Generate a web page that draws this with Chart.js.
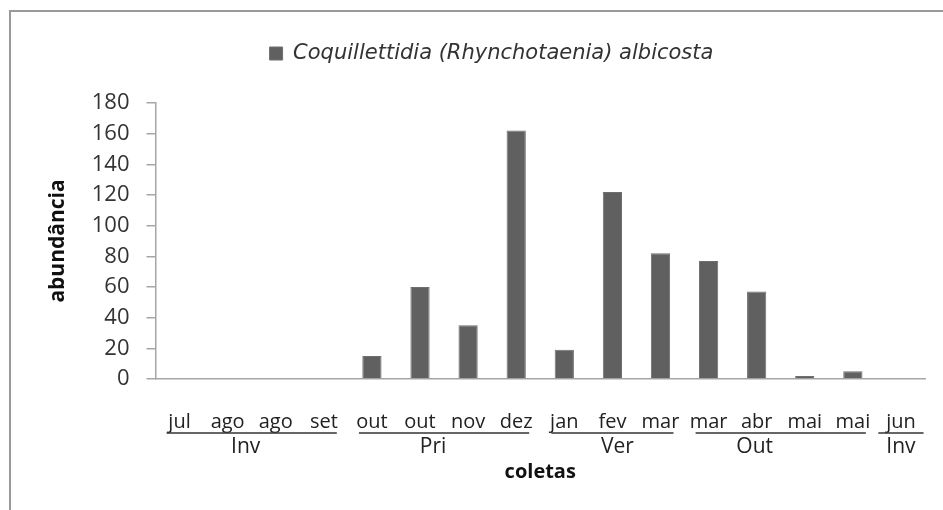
<!DOCTYPE html>
<html>
<head>
<meta charset="utf-8">
<script src="https://cdn.jsdelivr.net/npm/chart.js@4"></script>
<style>
  html, body { margin: 0; padding: 0; background: #ffffff; }
  #wrap { position: relative; width: 943px; height: 510px; }
  #frame { position: absolute; left: 9px; top: 10px; right: -5px; bottom: -5px;
           border-left: 2px solid #9a9a9a; border-top: 2px solid #9a9a9a; pointer-events: none; }
  canvas { display: block; }
</style>
</head>
<body>
<div id="wrap">
  <canvas id="c" width="943" height="510"></canvas>
  <div id="frame"></div>
</div>
<script>
// ---- data ----
const categories = ['jul', 'ago', 'ago', 'set', 'out', 'out', 'nov', 'dez', 'jan', 'fev', 'mar', 'mar', 'abr', 'mai', 'mai', 'jun'];
const abundancia = [0, 0, 0, 0, 15, 60, 35, 162, 19, 122, 82, 77, 57, 2, 5, 0];
const seriesName = 'Coquillettidia (Rhynchotaenia) albicosta';
const seasonNames = ['Inv', 'Pri', 'Ver', 'Out', 'Inv'];
const seasonFirst = [0, 4, 8, 11, 15];
const seasonLast = [3, 7, 10, 14, 15];
const yTickValues = [0, 20, 40, 60, 80, 100, 120, 140, 160, 180];

const FONT = "'Open Sans', 'Noto Sans', sans-serif";

const seasonPlugin = {
  id: 'seasons',
  afterDraw(chart, args, opts) {
    const x = chart.scales.x;
    const ctx = chart.ctx;
    const cat = x.width / categories.length;
    ctx.save();
    ctx.strokeStyle = '#333333';
    ctx.fillStyle = '#222222';
    ctx.lineWidth = 1.5;
    ctx.font = '21px ' + FONT;
    ctx.textAlign = 'center';
    ctx.textBaseline = 'middle';
    for (let i = 0; i < seasonNames.length; i++) {
      const a = x.getPixelForValue(seasonFirst[i]);
      const b = x.getPixelForValue(seasonLast[i]);
      const ext = seasonFirst[i] === seasonLast[i] ? 0.47 * cat : 0.27 * cat;
      ctx.beginPath();
      ctx.moveTo(a - ext, opts.lineY);
      ctx.lineTo(b + ext, opts.lineY);
      ctx.stroke();
      ctx.fillText(seasonNames[i], (a + b) / 2 + opts.nudge[i], opts.labelY);
    }
    ctx.restore();
  }
};

new Chart(document.getElementById('c'), {
  type: 'bar',
  data: {
    labels: categories,
    datasets: [{
      label: seriesName,
      data: abundancia,
      backgroundColor: '#606060',
      borderColor: '#6e6e6e',
      borderWidth: 1,
      categoryPercentage: 0.8,
      barPercentage: 0.5
    }]
  },
  options: {
    responsive: false,
    animation: false,
    layout: { padding: { top: 11, left: 58, right: 18, bottom: 0 } },
    plugins: {
      tooltip: { enabled: false },
      legend: {
        position: 'top',
        weight: 3000,
        labels: {
          boxWidth: 13, boxHeight: 13, padding: 32,
          color: '#333333',
          font: { family: "'DejaVu Sans', sans-serif", size: 21, style: 'italic' }
        }
      },
      title: {
        display: true,
        text: ' ',
        weight: 1000,
        font: { size: 10, lineHeight: 1 },
        padding: { top: 9, bottom: 10 }
      },
      seasons: { lineY: 433, labelY: 447, nudge: [-6, -11, 5, -26, 0] }
    },
    scales: {
      x: {
        grid: { display: false },
        border: { display: true, color: '#a6a6a6', width: 1.5 },
        ticks: {
          autoSkip: false, maxRotation: 0, minRotation: 0, padding: 23,
          color: '#222222', font: { family: FONT, size: 20 }
        },
        title: {
          display: true, text: 'coletas', color: '#111111',
          font: { family: FONT, size: 20, weight: 'bold' },
          padding: { top: 0, bottom: 26 }
        },
        afterFit(scale) { scale.height = 131; }
      },
      y: {
        min: 0, max: 180,
        afterBuildTicks(scale) { scale.ticks = yTickValues.map(v => ({ value: v })); },
        grid: { display: true, drawOnChartArea: false, drawTicks: true, tickLength: 9, color: '#a6a6a6', lineWidth: 1.5 },
        border: { display: true, color: '#a6a6a6', width: 1.5 },
        ticks: { padding: 17, color: '#333333', font: { family: FONT, size: 22 } },
        title: {
          display: true, text: 'abundância', color: '#111111',
          font: { family: FONT, size: 21, weight: 'bold' },
          padding: { top: -13, bottom: 0 }
        },
        afterFit(scale) { scale.width = 97.5; }
      }
    }
  },
  plugins: [seasonPlugin]
});
</script>
</body>
</html>
